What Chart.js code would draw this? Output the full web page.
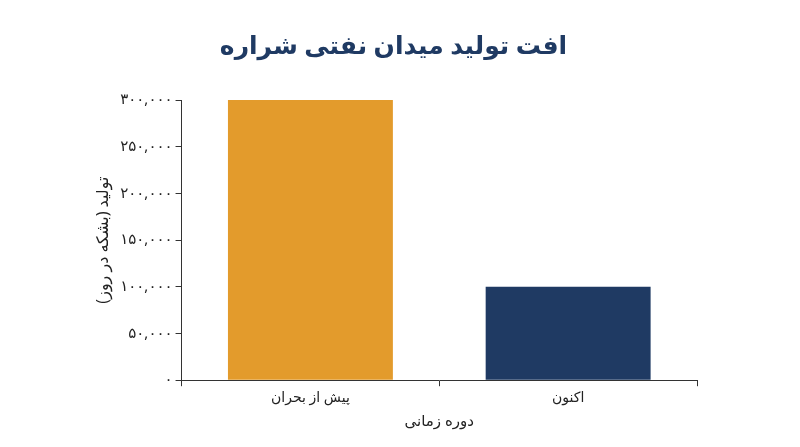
<!DOCTYPE html>
<html>
<head>
<meta charset="utf-8">
<script src="https://cdn.jsdelivr.net/npm/chart.js@4/dist/chart.umd.min.js"></script>
<style>
  html, body { margin: 0; padding: 0; background: #fff; }
  #wrap { width: 800px; height: 447px; }
</style>
</head>
<body>
<div id="wrap"><canvas id="chart"></canvas></div>
<script>
const categories = ['پیش از بحران', 'اکنون'];
const production = [300000, 100000];
const barColors = ['#E39B2C', '#1F3A63'];

const faDigits = '۰۱۲۳۴۵۶۷۸۹';
function toFa(n) {
    return n.toLocaleString('en-US').replace(/\d/g, d => faDigits[d]);
}

const fontFamily = '"Noto Sans", "DejaVu Sans", sans-serif';

new Chart(document.getElementById('chart'), {
    type: 'bar',
    data: {
        labels: categories,
        datasets: [{
            data: production,
            backgroundColor: barColors,
            barPercentage: 0.8,
            categoryPercentage: 0.8
        }]
    },
    options: {
        responsive: true,
        maintainAspectRatio: false,
        animation: false,
        layout: { padding: { left: 90, right: 103, top: 10, bottom: 12 } },
        plugins: {
            legend: { display: false },
            tooltip: { enabled: false },
            title: {
                display: true,
                text: 'افت تولید میدان نفتی شراره',
                color: '#1F3A63',
                font: { family: fontFamily, size: 25, weight: 'bold' },
                padding: { top: 22, bottom: 38 }
            }
        },
        scales: {
            x: {
                grid: { display: true, drawOnChartArea: false, offset: true, color: '#333', tickLength: 6 },
                border: { color: '#333' },
                ticks: { color: '#222', font: { family: fontFamily, size: 14 } },
                title: {
                    display: true,
                    text: 'دوره زمانی',
                    color: '#222',
                    font: { family: fontFamily, size: 15 }
                }
            },
            y: {
                min: 0,
                max: 300000,
                grid: { display: true, drawOnChartArea: false, color: '#333', tickLength: 6 },
                border: { color: '#333' },
                ticks: {
                    stepSize: 50000,
                    color: '#222',
                    font: { family: fontFamily, size: 15 },
                    callback: v => toFa(v)
                },
                title: {
                    display: true,
                    text: 'تولید (بشکه در روز)',
                    color: '#222',
                    font: { family: fontFamily, size: 16 }
                }
            }
        }
    }
});
</script>
</body>
</html>
